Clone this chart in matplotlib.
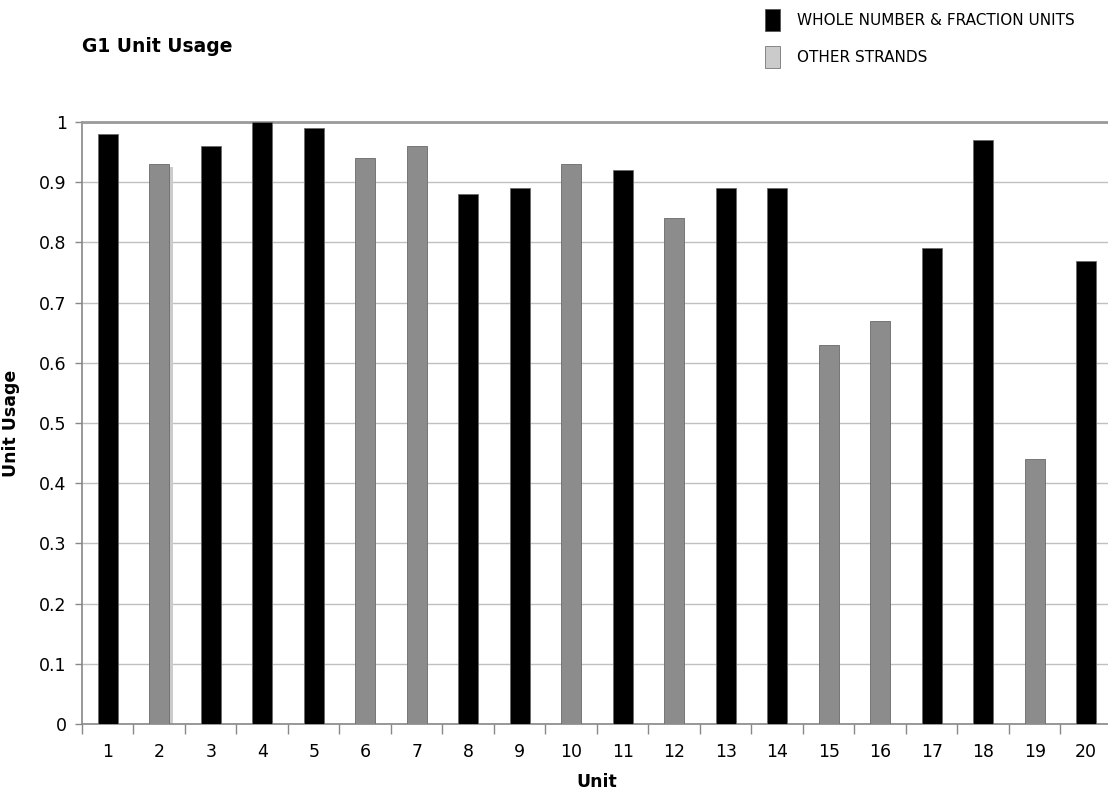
import matplotlib.pyplot as plt
from matplotlib.patches import Patch
import numpy as np

units = list(range(1, 21))
usage = [0.98, 0.93, 0.96, 1.00, 0.99, 0.94, 0.96, 0.88, 0.89, 0.93,
         0.92, 0.84, 0.89, 0.89, 0.63, 0.67, 0.79, 0.97, 0.44, 0.77]
# True = whole number & fraction unit, False = other strand
whole_fraction = [True, False, True, True, True, False, False, True, True, False,
                  True, False, True, True, False, False, True, True, False, True]
# unit 2 has a faint second bar behind it
ghost_unit = 2
ghost_value = 0.925

BLACK = "#000000"
GRAY = "#8c8c8c"
LIGHT = "#cbcbcb"

plt.rcParams["font.family"] = ["DejaVu Sans"]

fig = plt.figure(figsize=(11.08, 7.91), dpi=100)
ax = fig.add_axes([0.074, 0.0847, 0.9296, 0.761])

x = np.array(units)
colors = [BLACK if w else GRAY for w in whole_fraction]
bw = 0.39

ax.bar(ghost_unit + 0.07, ghost_value, width=bw, color=LIGHT, zorder=2)
ax.bar(x, usage, width=bw, color=colors, edgecolor="#6a6a6a", linewidth=0.6, zorder=3)

ax.set_xlim(0.5, 20.5)
ax.set_ylim(0, 1)
ax.set_yticks(np.arange(0, 1.01, 0.1))
ax.set_yticklabels(["0", "0.1", "0.2", "0.3", "0.4", "0.5", "0.6", "0.7", "0.8", "0.9", "1"])
ax.set_xticks(x)
ax.set_xticklabels([str(u) for u in units])
ax.set_xticks(np.arange(0.5, 21, 1), minor=True)

ax.tick_params(axis="x", which="major", length=0, labelsize=12.5, pad=14)
ax.tick_params(axis="x", which="minor", length=7, color="#888888", width=1)
ax.tick_params(axis="y", length=5, color="#888888", width=1, labelsize=12.5, pad=6)

ax.grid(axis="y", color="#c0c0c0", linewidth=1, zorder=0)
ax.set_axisbelow(True)
ax.spines["right"].set_visible(False)
ax.spines["top"].set_color("#9a9a9a")
ax.spines["top"].set_linewidth(2)
for side in ["left", "bottom"]:
    ax.spines[side].set_color("#888888")
    ax.spines[side].set_linewidth(1.2)

ax.set_xlabel("Unit", fontsize=12.5, fontweight="bold", labelpad=8)
ax.set_ylabel("Unit Usage", fontsize=12.5, fontweight="bold", labelpad=14)

fig.text(82 / 1108, 1 - 47 / 791, "G1 Unit Usage", fontsize=13.5, fontweight="bold",
         va="center", ha="left")

handles = [Patch(facecolor=BLACK, edgecolor="#555555", linewidth=0.6),
           Patch(facecolor=LIGHT, edgecolor="#777777", linewidth=0.6)]
fig.legend(handles, ["WHOLE NUMBER & FRACTION UNITS", "OTHER STRANDS"],
           loc="upper left", bbox_to_anchor=(751 / 1108, 1 + 5 / 791),
           frameon=False, fontsize=11, handlelength=1.0, handleheight=1.9,
           handletextpad=1.1, labelspacing=0.95)

fig.savefig("out.png", dpi=100)
